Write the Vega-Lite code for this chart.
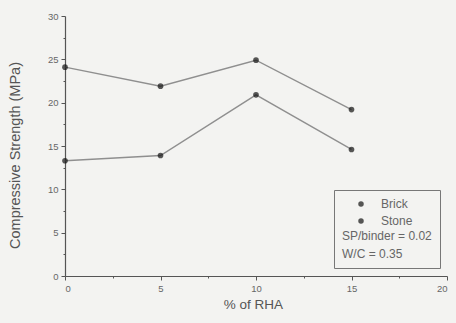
{
  "$schema": "https://vega.github.io/schema/vega-lite/v6.json",
  "width": 382,
  "height": 260,
  "autosize": {"type": "none"},
  "padding": {"left": 65, "top": 16, "right": 9, "bottom": 47},
  "background": "#f3f3f1",
  "config": {
    "view": {"stroke": null},
    "font": "Liberation Sans",
    "axis": {
      "grid": false,
      "domainColor": "#555",
      "domainWidth": 1.2,
      "tickColor": "#555",
      "labelColor": "#666",
      "labelFontSize": 9.5,
      "titleColor": "#555",
      "titleFontSize": 13.5,
      "titleFontWeight": "normal"
    }
  },
  "data": {
    "values": [
      {"rha": 0, "strength": 13.3, "mix": "Brick"},
      {"rha": 5, "strength": 13.9, "mix": "Brick"},
      {"rha": 10, "strength": 20.9, "mix": "Brick"},
      {"rha": 15, "strength": 14.6, "mix": "Brick"},
      {"rha": 0, "strength": 24.1, "mix": "Stone"},
      {"rha": 5, "strength": 21.9, "mix": "Stone"},
      {"rha": 10, "strength": 24.9, "mix": "Stone"},
      {"rha": 15, "strength": 19.2, "mix": "Stone"}
    ]
  },
  "encoding": {
    "x": {
      "field": "rha", "type": "quantitative",
      "scale": {"domain": [0, 20], "nice": false},
      "axis": {
        "title": "% of RHA",
        "values": [0, 2.5, 5, 7.5, 10, 12.5, 15, 17.5, 20],
        "labelExpr": "datum.value % 5 === 0 ? datum.label : ''",
        "tickSize": {"condition": {"test": "datum.value % 5 !== 0", "value": 2}, "value": 4},
        "labelPadding": 3,
        "titlePadding": 5,
        "titleX": 188
      }
    },
    "y": {
      "field": "strength", "type": "quantitative",
      "scale": {"domain": [0, 30], "nice": false},
      "axis": {
        "title": "Compressive Strength (MPa)",
        "titleFontSize": 14.5,
        "values": [0, 2.5, 5, 7.5, 10, 12.5, 15, 17.5, 20, 22.5, 25, 27.5, 30],
        "labelExpr": "datum.value % 5 === 0 ? datum.label : ''",
        "tickSize": {"condition": {"test": "datum.value % 5 !== 0", "value": 2}, "value": 4},
        "labelPadding": 3,
        "titlePadding": 25,
        "titleY": 139
      }
    }
  },
  "layer": [
    {
      "mark": {"type": "line", "color": "#8f8f8f", "strokeWidth": 1.4},
      "encoding": {"detail": {"field": "mix"}}
    },
    {
      "mark": {"type": "point", "filled": true, "size": 32},
      "encoding": {
        "color": {
          "field": "mix", "type": "nominal",
          "scale": {"domain": ["Brick", "Stone"], "range": ["#111", "#111"]},
          "legend": {
            "title": ["SP/binder = 0.02", "W/C = 0.35"],
            "titleOrient": "bottom",
            "titleAnchor": "start",
            "titleAlign": "left",
            "titleFontSize": 12,
            "titleFontWeight": "normal",
            "titleColor": "#666",
            "titleLineHeight": 17.5,
            "titlePadding": 4,
            "orient": "none",
            "legendX": 269,
            "legendY": 174,
            "padding": 8,
            "strokeColor": "#777",
            "symbolType": "circle",
            "symbolSize": 30,
            "symbolOffset": 13,
            "labelOffset": 14,
            "labelFontSize": 12,
            "labelColor": "#666",
            "rowPadding": 5
          }
        }
      }
    }
  ]
}
